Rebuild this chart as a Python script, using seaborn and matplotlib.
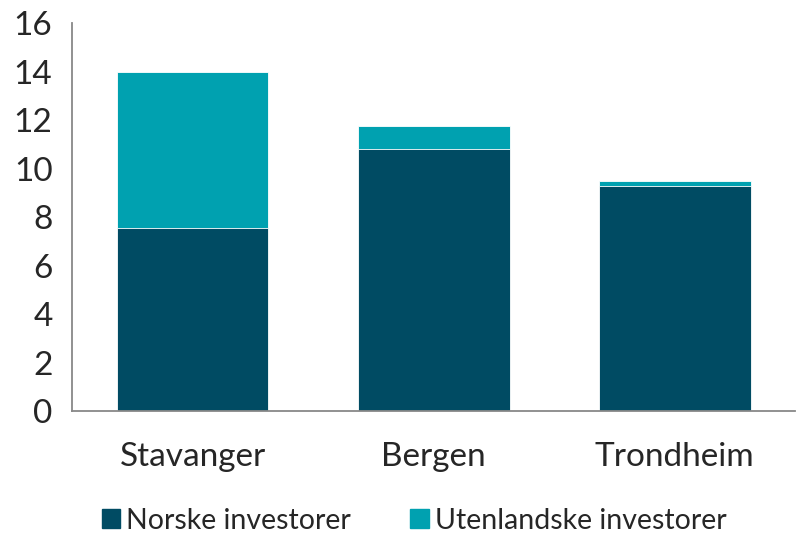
import matplotlib
matplotlib.use("Agg")
import matplotlib.pyplot as plt
import seaborn as sns
import pandas as pd
from matplotlib.patches import Patch

cities = ["Stavanger", "Bergen", "Trondheim"]
norske = [7.55, 10.8, 9.3]
utenlandske = [6.45, 0.95, 0.17]

sns.set_style("white")
plt.rcParams["font.family"] = ["Lato", "DejaVu Sans"]

dark = "#004B63"
light = "#00A1B0"

df = pd.DataFrame({"by": cities, "norske": norske, "utenlandske": utenlandske})
df["total"] = df["norske"] + df["utenlandske"]

fig = plt.figure(figsize=(8, 5.37), dpi=100)
ax = fig.add_axes([0.09, 0.2346, 0.904, 0.7225])

sns.barplot(data=df, x="by", y="total", color=light, saturation=1, width=0.63,
            edgecolor="white", linewidth=0.6, ax=ax)
sns.barplot(data=df, x="by", y="norske", color=dark, saturation=1, width=0.63,
            edgecolor="white", linewidth=0.6, ax=ax)

ax.set_ylim(0, 16)
ax.set_xlim(-0.5, 2.5)
ax.set_yticks(range(0, 17, 2))
ax.set_xlabel("")
ax.set_ylabel("")
for s in ["top", "right"]:
    ax.spines[s].set_visible(False)
for s in ["left", "bottom"]:
    ax.spines[s].set_color("#888888")
    ax.spines[s].set_linewidth(1.3)

# category ticks sit between the bars
ax.set_xticks([-0.5, 0.5, 1.5, 2.5], minor=False)
ax.set_xticklabels([])
ax.set_xticks([0, 1, 2], minor=True)
ax.set_xticklabels(cities, minor=True)
ax.tick_params(axis="x", which="major", direction="out", length=8, width=1.3, color="#888888")
ax.tick_params(axis="x", which="minor", length=0, pad=22, labelsize=24)
ax.tick_params(axis="y", direction="out", length=8, width=1.3, color="#888888", labelsize=24, pad=6)

handles = [Patch(color=dark, label="Norske investorer"),
           Patch(color=light, label="Utenlandske investorer")]
fig.legend(handles=handles, loc="center", bbox_to_anchor=(0.5175, 0.03), ncol=2,
           frameon=False, fontsize=20.5, handlelength=0.65, handleheight=0.65,
           handletextpad=0.2, columnspacing=2.1)

fig.savefig("out.png", dpi=100)
